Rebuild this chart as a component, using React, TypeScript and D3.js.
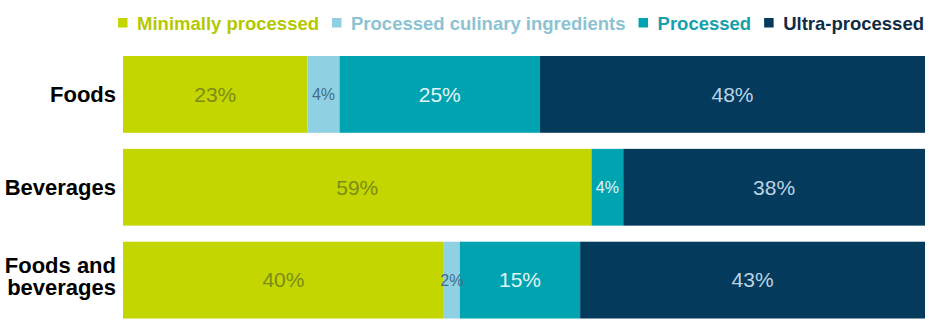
import React, { useEffect, useRef } from "react";
import * as d3 from "d3";

const categories = ["Foods", "Beverages", "Foods and beverages"];
const categoryLines = [["Foods"], ["Beverages"], ["Foods and", "beverages"]];
const seriesNames = ["Minimally processed", "Processed culinary ingredients", "Processed", "Ultra-processed"];
const minimally = [23, 59, 40];
const culinary = [4, 0, 2];
const processed = [25, 4, 15];
const ultra = [48, 38, 43];

const W = 929;
const H = 324;
const FONT = "'Liberation Sans', Arial, sans-serif";

const fills = ["#c4d600", "#8fd1e3", "#00a3b0", "#043b5c"];
const legendText = ["#b4c800", "#8cc3d3", "#15a0ab", "#0f2b45"];
const labelColors = ["#7d8c18", "#3f6d8b", "#e2f5f8", "#bcd3e3"];

export default function App() {
  const ref = useRef<SVGSVGElement>(null);

  useEffect(() => {
    const svg = d3.select(ref.current);
    svg.selectAll("*").remove();

    const rows = categories.map((c, i) => ({
      cat: c,
      s0: minimally[i],
      s1: culinary[i],
      s2: processed[i],
      s3: ultra[i],
    }));
    const keys = ["s0", "s1", "s2", "s3"];
    const stacked = d3.stack<any>().keys(keys).offset(d3.stackOffsetExpand)(rows);

    const x = d3.scaleLinear().domain([0, 1]).range([123, 925]);
    const y = d3.scaleBand<string>().domain(categories).range([56, 318.5]).paddingInner(0.173).paddingOuter(0);

    const g = svg.append("g");
    stacked.forEach((layer, li) => {
      g.selectAll(null)
        .data(layer)
        .join("rect")
        .attr("x", (d: any) => x(d[0]))
        .attr("y", (d: any) => y(d.data.cat)!)
        .attr("width", (d: any) => Math.max(0, x(d[1]) - x(d[0])))
        .attr("height", y.bandwidth())
        .attr("fill", fills[li]);
    });

    stacked.forEach((layer, li) => {
      g.selectAll(null)
        .data(layer.filter((d: any) => (d.data as any)[keys[li]] > 0))
        .join("text")
        .attr("x", (d: any) => (x(d[0]) + x(d[1])) / 2)
        .attr("y", (d: any) => y(d.data.cat)! + y.bandwidth() / 2)
        .attr("dy", "0.35em")
        .attr("text-anchor", "middle")
        .attr("font-family", FONT)
        .attr("font-size", (d: any) => ((d.data as any)[keys[li]] < 8 ? 16 : 21))
        .attr("fill", labelColors[li])
        .text((d: any) => `${(d.data as any)[keys[li]]}%`);
    });

    // category labels
    categories.forEach((c, i) => {
      const lines = categoryLines[i];
      const mid = y(c)! + y.bandwidth() / 2;
      const t = svg
        .append("text")
        .attr("text-anchor", "end")
        .attr("font-family", FONT)
        .attr("font-weight", "bold")
        .attr("font-size", 22)
        .attr("fill", "#000");
      if (lines.length === 1) {
        t.append("tspan").attr("x", 116).attr("y", mid + 8).text(lines[0]);
      } else {
        lines.forEach((l, k) => {
          t.append("tspan").attr("x", 116).attr("y", mid - 7.5 + k * 22).text(l);
        });
      }
    });

    // legend, right aligned
    const lg = svg.append("g");
    const items = seriesNames.map((n, i) => {
      const it = lg.append("g");
      it.append("rect").attr("x", 0).attr("y", 18).attr("width", 9.5).attr("height", 9.5).attr("fill", fills[i]);
      const tx = it
        .append("text")
        .attr("x", 19)
        .attr("y", 29.5)
        .attr("font-family", FONT)
        .attr("font-weight", "bold")
        .attr("font-size", 18.5)
        .attr("fill", legendText[i])
        .text(n);
      const w = (tx.node() as SVGTextElement).getComputedTextLength();
      return { it, w: 19 + w };
    });
    const gap = 13;
    let cur = 924;
    for (let i = items.length - 1; i >= 0; i--) {
      cur -= items[i].w;
      items[i].it.attr("transform", `translate(${cur},0)`);
      cur -= gap;
    }
  }, []);

  return (
    <svg
      ref={ref}
      width={W}
      height={H}
      style={{ position: "absolute", left: 0, top: 0, background: "#fff" }}
    />
  );
}
